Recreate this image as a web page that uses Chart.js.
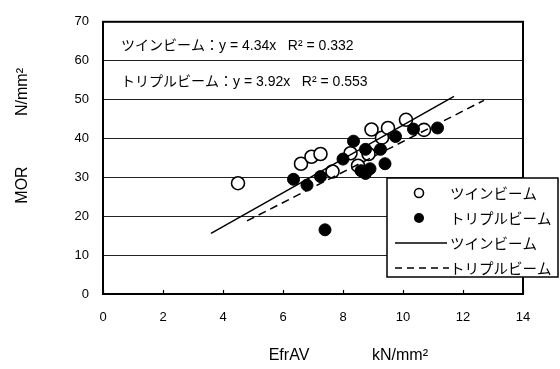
<!DOCTYPE html>
<html>
<head>
<meta charset="utf-8">
<script src="https://cdn.jsdelivr.net/npm/chart.js@4.4.1/dist/chart.umd.min.js"></script>
<style>
  html, body { margin: 0; padding: 0; background: #fff; }
  #wrap { width: 560px; height: 369px; }
</style>
</head>
<body>
<div id="wrap"><canvas id="morChart" width="560" height="369"></canvas></div>
<script>
// values
const twinX = [4.5, 6.6, 6.95, 7.25, 7.65, 8.25, 8.5, 8.85, 8.95, 9.3, 9.5, 10.1, 10.7];
const twinY = [28.5, 33.5, 35.3, 36.0, 31.5, 36.2, 33.0, 36.0, 42.3, 40.2, 42.7, 44.8, 42.2];
const tripleX = [6.35, 6.8, 7.25, 7.4, 8.0, 8.35, 8.6, 8.75, 8.75, 8.9, 9.25, 9.4, 9.75, 10.35, 11.15];
const tripleY = [29.5, 28.0, 30.2, 16.5, 34.7, 39.3, 31.7, 31.0, 37.2, 32.2, 37.2, 33.5, 40.5, 42.4, 42.7];
// fit lines, end points
const twinLineX = [3.6, 11.7];
const twinLineY = [15.6, 50.8];
const tripleLineX = [4.8, 12.7];
const tripleLineY = [18.8, 49.8];

const xTicks = [0, 2, 4, 6, 8, 10, 12, 14];
const yTicks = [0, 10, 20, 30, 40, 50, 60, 70];

const seriesNames = ['ツインビーム', 'トリプルビーム'];
const fitTexts = ['ツインビーム：y = 4.34x   R² = 0.332', 'トリプルビーム：y = 3.92x   R² = 0.553'];

const latin = '"Liberation Sans", Arial, "Noto Sans CJK JP", sans-serif';
const jp = '"Noto Sans CJK JP", sans-serif';

function toPoints(xs, ys) {
  return xs.map((x, i) => ({ x: x, y: ys[i] }));
}

// frame, inner ticks, titles, annotations and the legend box
const decorations = {
  id: 'decorations',
  afterDraw(chart) {
    const ctx = chart.ctx;
    const area = chart.chartArea;
    const xs = chart.scales.x;
    ctx.save();

    // frame
    ctx.strokeStyle = '#000';
    ctx.lineWidth = 2;
    ctx.strokeRect(area.left, area.top, area.right - area.left, area.bottom - area.top);

    // small inner ticks on the x axis
    ctx.lineWidth = 1.2;
    xTicks.forEach(v => {
      const px = Math.round(xs.getPixelForValue(v)) + 0.5;
      ctx.beginPath();
      ctx.moveTo(px, area.bottom);
      ctx.lineTo(px, area.bottom - 4);
      ctx.stroke();
    });

    // axis titles
    ctx.fillStyle = '#000';
    ctx.font = '16px ' + latin;
    ctx.textBaseline = 'middle';
    ctx.textAlign = 'center';
    ctx.fillText('EfrAV', 289, 356);
    ctx.fillText('kN/mm²', 400, 356);

    ctx.save();
    ctx.translate(23, 0);
    ctx.rotate(-Math.PI / 2);
    ctx.fillText('MOR', -185, 0);
    ctx.fillText('N/mm²', -92, 0);
    ctx.restore();

    // fit equations
    ctx.font = '14px ' + latin;
    ctx.textAlign = 'left';
    const w1 = ctx.measureText(fitTexts[0]).width;
    ctx.fillStyle = '#fff';
    ctx.fillRect(118, 37, w1 + 6, 19);
    ctx.fillStyle = '#000';
    ctx.fillText(fitTexts[0], 121, 46);
    ctx.fillText(fitTexts[1], 121, 82);

    // legend
    const lx = 387, ly = 178, lw = 171, lh = 99;
    ctx.fillStyle = '#fff';
    ctx.fillRect(lx, ly, lw, lh);
    ctx.lineWidth = 1.5;
    ctx.strokeStyle = '#000';
    ctx.strokeRect(lx, ly, lw, lh);

    const rows = [193, 218, 243, 268];
    ctx.font = '14.5px ' + jp;
    ctx.fillStyle = '#000';
    ctx.fillText(seriesNames[0], 450, rows[0]);
    ctx.fillText(seriesNames[1], 450, rows[1]);
    ctx.fillText(seriesNames[0], 450, rows[2]);
    ctx.fillText(seriesNames[1], 450, rows[3]);

    ctx.beginPath();
    ctx.arc(419, rows[0], 4.5, 0, Math.PI * 2);
    ctx.fillStyle = '#fff';
    ctx.fill();
    ctx.lineWidth = 1.6;
    ctx.stroke();
    ctx.beginPath();
    ctx.arc(419, rows[1], 5, 0, Math.PI * 2);
    ctx.fillStyle = '#000';
    ctx.fill();

    ctx.lineWidth = 1.5;
    ctx.beginPath();
    ctx.moveTo(395, rows[2]);
    ctx.lineTo(447, rows[2]);
    ctx.stroke();
    ctx.setLineDash([7, 5]);
    ctx.beginPath();
    ctx.moveTo(395, rows[3]);
    ctx.lineTo(449, rows[3]);
    ctx.stroke();
    ctx.setLineDash([]);

    ctx.restore();
  }
};

const ctx = document.getElementById('morChart').getContext('2d');
const morChart = new Chart(ctx, {
  type: 'scatter',
  data: {
    datasets: [
      {
        label: seriesNames[0] + ' fit',
        type: 'line',
        data: toPoints(twinLineX, twinLineY),
        borderColor: '#000',
        borderWidth: 1.5,
        pointRadius: 0,
        showLine: true,
        fill: false
      },
      {
        label: seriesNames[1] + ' fit',
        type: 'line',
        data: toPoints(tripleLineX, tripleLineY),
        borderColor: '#000',
        borderWidth: 1.5,
        borderDash: [8, 5],
        pointRadius: 0,
        showLine: true,
        fill: false
      },
      {
        label: seriesNames[1],
        data: toPoints(tripleX, tripleY),
        pointRadius: 6,
        backgroundColor: '#000',
        borderColor: '#000',
        borderWidth: 1
      },
      {
        label: seriesNames[0],
        data: toPoints(twinX, twinY),
        pointRadius: 6.5,
        backgroundColor: '#fff',
        borderColor: '#000',
        borderWidth: 1.6
      }
    ]
  },
  options: {
    responsive: false,
    animation: false,
    layout: { padding: { top: 14, right: 37, left: 0, bottom: 0 } },
    plugins: {
      legend: { display: false },
      tooltip: { enabled: false }
    },
    scales: {
      x: {
        type: 'linear',
        min: 0,
        max: 14,
        afterFit: scale => { scale.height = 75; },
        afterBuildTicks: scale => { scale.ticks = xTicks.map(v => ({ value: v })); },
        grid: { display: false, drawTicks: false },
        border: { display: false },
        ticks: {
          padding: 16,
          color: '#000',
          font: { family: latin, size: 13 },
          maxRotation: 0
        }
      },
      y: {
        type: 'linear',
        min: 0,
        max: 70,
        afterFit: scale => { scale.width = 103; },
        afterBuildTicks: scale => { scale.ticks = yTicks.map(v => ({ value: v })); },
        grid: { color: '#222', lineWidth: 1, drawTicks: false },
        border: { display: false },
        ticks: {
          padding: 14,
          color: '#000',
          font: { family: latin, size: 13 }
        }
      }
    }
  },
  plugins: [decorations]
});
</script>
</body>
</html>
